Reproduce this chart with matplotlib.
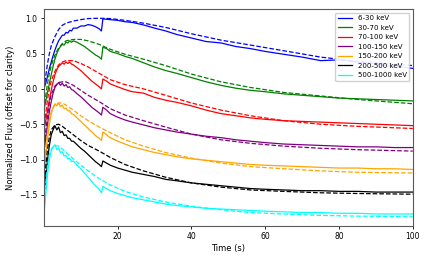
import numpy as np
import matplotlib
matplotlib.use('Agg')
import matplotlib.pyplot as plt

# 관측 데이터 시간축 (s)
t_data = [0, 0.5, 1, 1.5, 2, 2.5, 3, 3.5, 4, 4.5, 5, 5.5, 6, 6.5, 7, 7.5, 8,
          9, 10, 11, 12, 13, 14, 15, 15.6, 16, 17, 18, 20, 22, 24,
          27, 30, 33, 36, 40, 44, 48, 52, 56, 60,
          65, 70, 75, 80, 85, 90, 95, 100]

# 모델 시간축 (s)
t_model = [0, 0.5, 1, 1.5, 2, 3, 4, 5, 6, 8, 10, 12, 15, 18, 22, 27, 33,
           40, 48, 56, 65, 75, 85, 100]

bands = ['6-30 keV', '30-70 keV', '70-100 keV', '100-150 keV',
         '150-200 keV', '200-500 keV', '500-1000 keV']
colors = ['blue', 'green', 'red', 'purple', 'orange', 'black', 'cyan']

# 밴드별 관측값 (offset 포함)
data_6_30 = [0.0, 0.08, 0.18, 0.29, 0.38, 0.47, 0.55, 0.62, 0.68, 0.72, 0.76, 0.76, 0.80, 0.79, 0.83, 0.82, 0.86,
             0.86, 0.89, 0.89, 0.91, 0.90, 0.88, 0.85,
             0.82, 0.99, 0.985, 0.98, 0.97, 0.95, 0.94,
             0.905, 0.86, 0.82, 0.77, 0.72, 0.67, 0.65, 0.60, 0.57, 0.53,
             0.49, 0.45, 0.40, 0.41, 0.38, 0.35, 0.32, 0.29]
data_30_70 = [-0.3, -0.18, -0.05, 0.08, 0.2, 0.32, 0.42, 0.50, 0.56, 0.60, 0.63, 0.62, 0.66, 0.65, 0.68, 0.66, 0.68,
              0.66, 0.63, 0.60, 0.56, 0.52, 0.48, 0.45,
              0.42, 0.59, 0.57, 0.53, 0.50, 0.46, 0.43,
              0.37, 0.31, 0.26, 0.22, 0.16, 0.10, 0.05, 0.01, -0.02, -0.04,
              -0.07, -0.09, -0.11, -0.13, -0.14, -0.15, -0.16, -0.17]
data_70_100 = [-0.6, -0.45, -0.3, -0.15, -0.02, 0.1, 0.2, 0.27, 0.32, 0.34, 0.37, 0.35, 0.38, 0.36, 0.38, 0.35, 0.34,
               0.30, 0.26, 0.21, 0.16, 0.11, 0.07, 0.03,
               0.0, 0.14, 0.11, 0.07, 0.03, -0.01, -0.04,
               -0.06, -0.12, -0.16, -0.19, -0.24, -0.30, -0.35, -0.38, -0.41, -0.43,
               -0.45, -0.46, -0.47, -0.48, -0.49, -0.50, -0.51, -0.52]
data_100_150 = [-0.9, -0.7, -0.5, -0.32, -0.18, -0.06, 0.02, 0.06, 0.09, 0.05, 0.08, 0.04, 0.06, 0.02, 0.03, -0.01, -0.02,
                -0.07, -0.11, -0.16, -0.21, -0.26, -0.30, -0.34,
                -0.37, -0.26, -0.30, -0.35, -0.40, -0.44, -0.47,
                -0.51, -0.55, -0.58, -0.61, -0.64, -0.67, -0.69, -0.72, -0.74, -0.76,
                -0.78, -0.79, -0.80, -0.81, -0.82, -0.82, -0.83, -0.83]
data_150_200 = [-1.2, -0.95, -0.7, -0.5, -0.35, -0.26, -0.21, -0.24, -0.2, -0.25, -0.23, -0.28, -0.27, -0.31, -0.31, -0.35, -0.36,
                -0.41, -0.46, -0.51, -0.56, -0.61, -0.66, -0.70,
                -0.73, -0.61, -0.65, -0.69, -0.74, -0.78, -0.82,
                -0.86, -0.90, -0.93, -0.96, -0.99, -1.01, -1.03, -1.05, -1.07, -1.08,
                -1.09, -1.10, -1.11, -1.12, -1.12, -1.13, -1.13, -1.14]
data_200_500 = [-1.5, -1.25, -1.0, -0.8, -0.65, -0.58, -0.52, -0.58, -0.54, -0.62, -0.60, -0.66, -0.65, -0.70, -0.70, -0.74, -0.74,
                -0.79, -0.84, -0.88, -0.93, -0.98, -1.03, -1.07,
                -1.10, -1.02, -1.05, -1.08, -1.12, -1.15, -1.18,
                -1.21, -1.24, -1.28, -1.30, -1.33, -1.35, -1.37, -1.39, -1.41, -1.42,
                -1.43, -1.44, -1.44, -1.45, -1.45, -1.46, -1.46, -1.46]
data_500_1000 = [-1.8, -1.5, -1.2, -1.0, -0.88, -0.82, -0.79, -0.86, -0.84, -0.90, -0.89, -0.95, -0.94, -0.99, -0.98, -1.03, -1.02,
                 -1.08, -1.13, -1.19, -1.25, -1.31, -1.37, -1.42,
                 -1.47, -1.38, -1.41, -1.44, -1.48, -1.51, -1.54,
                 -1.57, -1.60, -1.63, -1.65, -1.67, -1.69, -1.70, -1.71, -1.72, -1.73,
                 -1.74, -1.75, -1.75, -1.76, -1.76, -1.77, -1.77, -1.77]

# 밴드별 모델값 (점선)
model_6_30 = [0, 0.18, 0.36, 0.5, 0.61, 0.74, 0.84, 0.90, 0.93, 0.96, 0.98, 0.995, 1.0, 0.995, 0.97, 0.93, 0.87,
              0.78, 0.69, 0.62, 0.54, 0.45, 0.39, 0.33]
model_30_70 = [-0.3, -0.1, 0.08, 0.22, 0.33, 0.48, 0.58, 0.64, 0.68, 0.70, 0.70, 0.68, 0.63, 0.56, 0.49, 0.42, 0.33,
               0.21, 0.10, 0.02, -0.05, -0.10, -0.15, -0.21]
model_70_100 = [-0.6, -0.35, -0.15, 0.0, 0.11, 0.25, 0.34, 0.38, 0.40, 0.40, 0.36, 0.31, 0.22, 0.13, 0.06, 0.0, -0.09,
                -0.20, -0.30, -0.38, -0.45, -0.50, -0.53, -0.56]
model_100_150 = [-0.9, -0.6, -0.38, -0.2, -0.08, 0.04, 0.09, 0.10, 0.10, 0.05, -0.02, -0.09, -0.18, -0.28, -0.37, -0.45, -0.54,
                 -0.64, -0.72, -0.77, -0.81, -0.84, -0.86, -0.88]
model_150_200 = [-1.2, -0.85, -0.6, -0.43, -0.32, -0.22, -0.2, -0.2, -0.23, -0.3, -0.38, -0.45, -0.54, -0.62, -0.72, -0.81, -0.9,
                 -0.98, -1.05, -1.10, -1.13, -1.16, -1.18, -1.19]
model_200_500 = [-1.5, -1.1, -0.85, -0.68, -0.58, -0.51, -0.5, -0.53, -0.57, -0.65, -0.73, -0.80, -0.88, -0.97, -1.07, -1.16, -1.25,
                 -1.33, -1.39, -1.43, -1.45, -1.47, -1.48, -1.49]
model_500_1000 = [-1.8, -1.35, -1.08, -0.93, -0.85, -0.8, -0.81, -0.85, -0.9, -0.99, -1.08, -1.16, -1.27, -1.36, -1.45, -1.53, -1.60,
                  -1.66, -1.71, -1.75, -1.77, -1.79, -1.80, -1.81]

data_all = [data_6_30, data_30_70, data_70_100, data_100_150, data_150_200, data_200_500, data_500_1000]
model_all = [model_6_30, model_30_70, model_70_100, model_100_150, model_150_200, model_200_500, model_500_1000]

fig = plt.figure(figsize=(4.3, 2.58), dpi=100)
ax = fig.add_axes([0.102, 0.124, 0.858, 0.841])

for name, c, d, m in zip(bands, colors, data_all, model_all):
    ax.plot(t_data, d, color=c, lw=0.9, label=name)
    ax.plot(t_model, m, color=c, lw=0.9, ls='--')

ax.set_xlim(0, 100)
ax.set_ylim(-1.94, 1.13)
ax.set_xticks([20, 40, 60, 80, 100])
ax.set_yticks([-1.5, -1.0, -0.5, 0.0, 0.5, 1.0])
ax.tick_params(labelsize=5.5, length=2.5, width=0.6, pad=2)
ax.set_xlabel('Time (s)', fontsize=6, labelpad=2)
ax.set_ylabel('Normalized Flux (offset for clarity)', fontsize=6)
ax.yaxis.set_label_coords(-0.078, 0.5)
for s in ax.spines.values():
    s.set_linewidth(0.8)
    s.set_color('0.35')
ax.legend(loc='upper right', fontsize=5, handlelength=2.0, labelspacing=0.5,
          borderpad=0.4, framealpha=0.9)

fig.savefig('out.png', dpi=100)
